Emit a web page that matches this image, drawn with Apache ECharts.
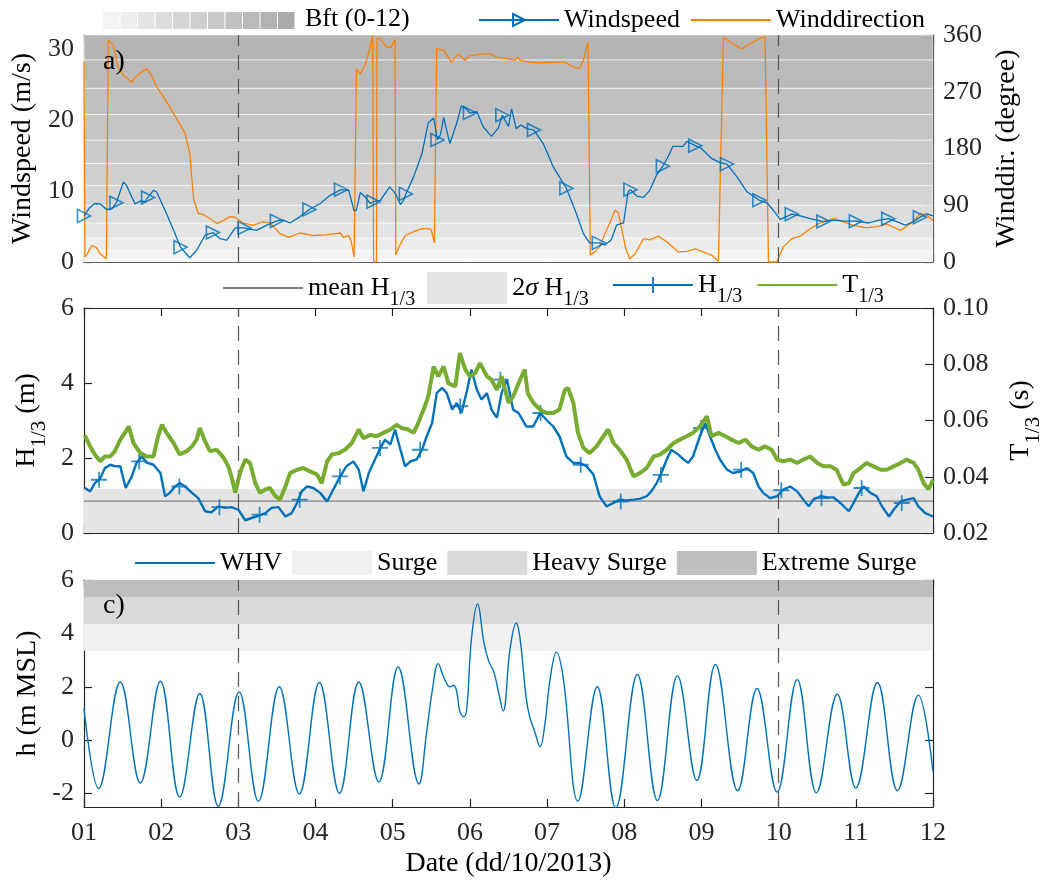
<!DOCTYPE html>
<html>
<head>
<meta charset="utf-8">
<script src="https://cdn.jsdelivr.net/npm/echarts@6/dist/echarts.min.js"></script>
<style>html,body{margin:0;padding:0;background:#fff}#chart{width:1041px;height:885px}</style>
</head>
<body>
<div id="chart"></div>
<script>
// ---------------- DATA ----------------
const dayTicks = [1,2,3,4,5,6,7,8,9,10,11,12];
const dayLabels = ['01','02','03','04','05','06','07','08','09','10','11','12'];
const refDays = [3, 10];

const windTicks = [0, 10, 20, 30];
const dirTicks = [0, 90, 180, 270, 360];
const hTicks = [0, 2, 4, 6];
const tTicks = [0.02, 0.04, 0.06, 0.08, 0.10];
const whvTicks = [-2, 0, 2, 4, 6];

// Beaufort class limits (m/s)
const bftLimits = [0, 0.3, 1.6, 3.4, 5.5, 8.0, 10.8, 13.9, 17.2, 20.8, 24.5, 28.5, 32.7];

const windSpeed = [[1.00,6.5],[1.07,7.6],[1.14,8.25],[1.21,8.2],[1.29,7.4],[1.36,7.5],[1.42,8.35],[1.51,11.3],[1.55,10.8],[1.66,8.2],[1.73,8.6],[1.79,8.5],[1.83,9.1],[1.90,10.1],[1.94,9.9],[2.07,6.8],[2.16,4.5],[2.25,2.1],[2.37,0.6],[2.46,1.65],[2.57,3.8],[2.67,4.15],[2.76,3.3],[2.85,3.07],[2.96,4.8],[3.08,4.8],[3.15,4.6],[3.24,4.5],[3.37,5.2],[3.50,5.8],[3.58,5.9],[3.67,5.5],[3.80,6.4],[3.92,7.4],[4.06,8.25],[4.19,9.4],[4.33,10.2],[4.43,10.1],[4.50,7.2],[4.53,7.3],[4.58,9.8],[4.64,9.2],[4.71,8.25],[4.75,8.5],[4.84,8.7],[4.96,10.6],[5.03,9.7],[5.10,8.1],[5.14,8.7],[5.17,9.6],[5.27,12.0],[5.38,15.3],[5.46,19.6],[5.53,20.3],[5.58,17.2],[5.62,18.0],[5.66,20.4],[5.74,16.7],[5.83,19.6],[5.89,22.0],[5.94,21.7],[6.00,21.0],[6.09,21.2],[6.17,19.1],[6.28,17.7],[6.37,18.9],[6.42,20.7],[6.50,19.1],[6.54,21.6],[6.60,18.8],[6.66,19.3],[6.74,18.8],[6.83,18.6],[6.95,16.7],[7.08,13.4],[7.25,10.4],[7.38,6.8],[7.47,4.0],[7.55,2.7],[7.67,2.7],[7.75,2.4],[7.83,3.1],[7.90,5.2],[7.99,5.5],[8.05,9.9],[8.08,10.2],[8.16,9.3],[8.25,9.1],[8.33,10.1],[8.42,12.3],[8.50,13.5],[8.57,14.9],[8.63,16.3],[8.76,16.3],[8.81,17.0],[8.92,16.4],[9.00,16.0],[9.13,14.6],[9.24,14.0],[9.33,13.8],[9.46,12.0],[9.59,9.9],[9.75,8.7],[9.85,8.35],[9.93,7.3],[10.02,6.0],[10.10,6.4],[10.17,6.75],[10.28,6.5],[10.41,6.1],[10.58,5.7],[10.71,5.9],[10.84,5.75],[11.00,5.75],[11.17,5.5],[11.30,5.9],[11.42,6.1],[11.53,5.7],[11.64,5.2],[11.75,5.7],[11.83,6.3],[11.92,6.8],[12.00,6.5]];

const windSpeedMarkers = [[1.00,6.5],[1.42,8.35],[1.83,9.1],[2.25,2.1],[2.67,4.15],[3.08,4.8],[3.50,5.8],[3.92,7.4],[4.33,10.2],[4.75,8.5],[5.17,9.6],[5.58,17.2],[6.00,21.0],[6.42,20.7],[6.83,18.6],[7.25,10.4],[7.67,2.7],[8.08,10.2],[8.50,13.5],[8.92,16.4],[9.33,13.8],[9.75,8.7],[10.17,6.75],[10.58,5.7],[11.00,5.75],[11.42,6.1],[11.83,6.3]];

const windDir = [[1.000,318],[1.012,8],[1.04,12],[1.10,26],[1.16,23],[1.21,13],[1.29,5],[1.315,352],[1.38,344],[1.44,309],[1.51,296],[1.62,285],[1.66,293],[1.81,307],[1.875,296],[1.94,278],[2.03,262],[2.11,246],[2.24,219],[2.31,204],[2.37,172],[2.42,100],[2.48,77],[2.55,75],[2.63,69],[2.72,61],[2.81,66],[2.89,72],[2.96,71],[3.06,62],[3.19,58],[3.32,64],[3.41,62],[3.54,45],[3.65,39],[3.80,46],[3.97,42],[4.14,43],[4.32,46],[4.36,39],[4.43,42],[4.46,34],[4.50,8],[4.53,306],[4.58,298],[4.64,312],[4.71,341],[4.74,360],[4.748,360],[4.752,0],[4.79,0],[4.795,355],[4.84,354],[4.92,341],[4.98,341],[5.03,353],[5.04,11],[5.09,26],[5.16,42],[5.27,48],[5.38,53],[5.46,53],[5.50,51],[5.54,30],[5.57,338],[5.66,336],[5.76,317],[5.85,330],[5.94,320],[6.00,328],[6.07,328],[6.15,330],[6.26,330],[6.35,325],[6.48,322],[6.58,320],[6.62,325],[6.65,320],[6.78,317],[6.90,316],[7.08,317],[7.23,317],[7.34,309],[7.42,307],[7.47,320],[7.53,349],[7.56,11],[7.62,16],[7.68,24],[7.75,45],[7.81,61],[7.88,82],[7.92,79],[7.96,56],[8.02,21],[8.07,5],[8.14,13],[8.25,37],[8.33,35],[8.44,41],[8.55,32],[8.70,16],[8.81,17],[8.92,21],[9.02,16],[9.13,11],[9.22,1],[9.24,0],[9.284,356],[9.41,346],[9.52,338],[9.63,346],[9.74,354],[9.824,358],[9.868,0],[9.976,0],[10.06,24],[10.17,37],[10.28,41],[10.41,53],[10.54,62],[10.73,69],[10.86,63],[10.97,58],[11.14,54],[11.27,56],[11.40,60],[11.58,50],[11.71,61],[11.84,77],[11.92,74],[12.00,66]];

const h13Mean = 0.85;
const h13TwoSigma = [0, 1.18];

const h13 = [[1.01,1.2],[1.08,1.11],[1.14,1.33],[1.21,1.45],[1.27,1.73],[1.34,1.82],[1.40,1.78],[1.47,1.78],[1.54,1.2],[1.62,1.51],[1.68,1.87],[1.75,2.04],[1.81,1.88],[1.90,1.82],[1.99,1.6],[2.05,0.98],[2.11,1.07],[2.18,1.24],[2.24,1.33],[2.31,1.24],[2.40,1.07],[2.48,0.93],[2.57,0.58],[2.65,0.55],[2.74,0.71],[2.83,0.67],[2.91,0.69],[3.00,0.62],[3.09,0.34],[3.17,0.4],[3.26,0.46],[3.35,0.53],[3.43,0.67],[3.52,0.69],[3.61,0.44],[3.69,0.53],[3.76,0.8],[3.82,1.11],[3.89,1.24],[3.97,1.2],[4.06,1.07],[4.15,0.84],[4.23,1.16],[4.32,1.51],[4.40,1.78],[4.49,1.91],[4.56,1.69],[4.62,1.11],[4.69,1.6],[4.77,1.96],[4.84,2.27],[4.90,2.49],[4.97,2.36],[5.03,2.76],[5.10,2.22],[5.16,1.78],[5.23,1.91],[5.31,1.96],[5.38,2.22],[5.44,2.58],[5.51,2.93],[5.57,3.73],[5.64,3.87],[5.70,3.73],[5.77,3.29],[5.83,3.47],[5.89,3.2],[5.96,3.78],[6.02,4.36],[6.09,3.82],[6.15,3.56],[6.22,3.73],[6.28,3.29],[6.35,3.07],[6.41,3.73],[6.48,4.09],[6.56,3.29],[6.63,3.2],[6.73,2.84],[6.82,2.84],[6.91,3.2],[6.99,3.02],[7.08,2.84],[7.16,2.58],[7.25,2.04],[7.34,1.87],[7.42,1.87],[7.51,1.78],[7.60,1.56],[7.68,0.98],[7.77,0.71],[7.86,0.8],[7.94,0.89],[8.03,0.87],[8.12,0.89],[8.20,0.91],[8.29,0.98],[8.35,1.11],[8.42,1.33],[8.48,1.6],[8.55,1.96],[8.61,2.22],[8.70,2.09],[8.77,1.96],[8.83,1.87],[8.89,2.04],[8.98,2.58],[9.05,2.93],[9.11,2.58],[9.18,2.22],[9.24,1.96],[9.33,1.69],[9.41,1.6],[9.50,1.64],[9.59,1.73],[9.67,1.6],[9.74,1.24],[9.80,1.07],[9.89,0.93],[9.98,0.98],[10.06,1.16],[10.15,1.24],[10.24,1.11],[10.32,0.89],[10.39,0.71],[10.45,0.89],[10.54,0.98],[10.63,0.95],[10.71,0.95],[10.80,0.8],[10.91,0.58],[10.97,0.8],[11.04,1.07],[11.10,1.24],[11.19,1.07],[11.27,0.98],[11.34,0.71],[11.43,0.44],[11.49,0.62],[11.58,0.84],[11.66,0.89],[11.75,0.93],[11.81,0.71],[11.90,0.53],[12.00,0.44]];

const h13Markers = [[1.195,1.42],[1.715,1.91],[2.235,1.24],[2.755,0.69],[3.275,0.49],[3.795,0.89],[4.315,1.51],[4.835,2.27],[5.355,2.22],[5.875,3.38],[6.395,4.09],[6.915,3.2],[7.435,1.82],[7.955,0.84],[8.475,1.55],[8.995,2.8],[9.515,1.69],[10.035,1.14],[10.555,0.93],[11.075,1.2],[11.595,0.8]];

const t13 = [[1.01,0.0547],[1.08,0.0508],[1.14,0.0479],[1.21,0.0455],[1.27,0.0472],[1.34,0.0472],[1.40,0.0491],[1.47,0.0532],[1.53,0.0556],[1.58,0.0579],[1.64,0.0520],[1.73,0.0484],[1.81,0.0472],[1.90,0.0472],[1.96,0.0544],[2.01,0.0585],[2.07,0.0556],[2.16,0.0520],[2.24,0.0479],[2.33,0.0491],[2.40,0.0508],[2.46,0.0532],[2.50,0.0573],[2.57,0.0525],[2.63,0.0491],[2.72,0.0496],[2.81,0.0467],[2.87,0.0437],[2.91,0.0401],[2.96,0.0343],[3.02,0.0413],[3.09,0.0461],[3.15,0.0449],[3.22,0.0377],[3.28,0.0343],[3.35,0.0355],[3.41,0.0360],[3.48,0.0331],[3.54,0.0319],[3.61,0.0365],[3.67,0.0413],[3.76,0.0425],[3.84,0.0431],[3.93,0.0419],[4.02,0.0408],[4.08,0.0377],[4.15,0.0455],[4.21,0.0479],[4.30,0.0484],[4.38,0.0496],[4.47,0.0520],[4.56,0.0568],[4.62,0.0537],[4.71,0.0549],[4.79,0.0544],[4.88,0.0556],[4.97,0.0568],[5.05,0.0585],[5.12,0.0573],[5.20,0.0568],[5.27,0.0556],[5.33,0.0591],[5.40,0.0639],[5.46,0.0685],[5.53,0.0792],[5.59,0.0757],[5.66,0.0792],[5.72,0.0733],[5.81,0.0721],[5.87,0.0840],[5.94,0.0781],[6.00,0.0757],[6.07,0.0769],[6.13,0.0804],[6.22,0.0757],[6.28,0.0745],[6.35,0.0709],[6.41,0.0757],[6.50,0.0663],[6.56,0.0685],[6.65,0.0745],[6.71,0.0781],[6.75,0.0697],[6.82,0.0663],[6.91,0.0639],[6.99,0.0627],[7.08,0.0627],[7.16,0.0639],[7.23,0.0709],[7.27,0.0716],[7.34,0.0663],[7.40,0.0556],[7.47,0.0503],[7.55,0.0484],[7.64,0.0508],[7.73,0.0544],[7.79,0.0568],[7.86,0.0520],[7.94,0.0496],[8.03,0.0461],[8.12,0.0401],[8.20,0.0413],[8.29,0.0431],[8.38,0.0472],[8.46,0.0479],[8.55,0.0496],[8.64,0.0520],[8.72,0.0532],[8.81,0.0544],[8.89,0.0556],[8.98,0.0579],[9.07,0.0615],[9.13,0.0544],[9.22,0.0556],[9.31,0.0544],[9.39,0.0532],[9.48,0.0520],[9.57,0.0532],[9.65,0.0508],[9.74,0.0496],[9.82,0.0508],[9.91,0.0496],[9.98,0.0461],[10.06,0.0455],[10.15,0.0461],[10.24,0.0449],[10.32,0.0461],[10.41,0.0472],[10.50,0.0449],[10.58,0.0437],[10.67,0.0437],[10.75,0.0425],[10.84,0.0372],[10.91,0.0377],[10.97,0.0413],[11.06,0.0431],[11.14,0.0449],[11.23,0.0437],[11.32,0.0425],[11.40,0.0425],[11.49,0.0437],[11.58,0.0449],[11.66,0.0461],[11.75,0.0449],[11.81,0.0425],[11.88,0.0377],[11.94,0.0355],[12.00,0.0389]];

const whv = [[1.00,1.19],[1.19,-1.81],[1.47,2.18],[1.73,-1.60],[1.99,2.21],[2.24,-2.13],[2.50,1.75],[2.74,-2.47],[3.01,1.81],[3.26,-2.28],[3.53,2.00],[3.79,-2.01],[4.05,2.16],[4.31,-1.99],[4.56,2.18],[4.82,-1.56],[5.07,2.74],[5.34,-1.64],[5.44,0.32],[5.51,1.81],[5.59,2.87],[5.66,2.37],[5.74,2.00],[5.79,2.06],[5.83,1.81],[5.87,1.07],[5.92,0.88],[5.96,1.19],[6.02,3.80],[6.10,5.10],[6.18,3.67],[6.24,2.99],[6.31,2.56],[6.37,1.81],[6.43,1.09],[6.52,3.42],[6.60,4.39],[6.65,3.80],[6.73,1.56],[6.78,0.82],[6.84,0.32],[6.91,-0.24],[6.97,0.57],[7.04,2.31],[7.12,3.30],[7.21,2.31],[7.40,-2.28],[7.65,2.00],[7.89,-2.53],[8.17,2.46],[8.43,-2.26],[8.69,2.41],[8.94,-1.51],[9.18,2.84],[9.47,-1.89],[9.72,1.94],[9.98,-1.94],[10.24,2.27],[10.49,-1.97],[10.76,1.72],[11.00,-1.79],[11.28,2.16],[11.54,-1.89],[11.81,1.69],[12.00,-1.17]];

// Storm-surge warning levels (m MSL): Surge, Heavy Surge, Extreme Surge
const surgeLevels = [3.35, 4.35, 5.35, 6.0];
const surgeNames = ['Surge', 'Heavy Surge', 'Extreme Surge'];

// ---------------- STYLE ----------------
const FONT = '"Liberation Serif", "Times New Roman", Times, serif';
const AX = '#262626';
const BLUE = '#0072BD', ORANGE = '#FF8000', GREEN = '#77AC30';
const bftColors = ['#f6f6f6','#f3f3f3','#ececec','#e4e4e4','#dcdcdc','#d5d5d5','#cfcfcf','#cacaca','#c5c5c5','#c0c0c0','#bababa','#b4b4b4'];
const bftSwatch = ['#f4f4f4','#ededed','#e4e4e4','#dcdcdc','#d5d5d5','#cecece','#c8c8c8','#c1c1c1','#bababa','#b3b3b3','#ababab'];
const surgeColors = ['#f0f0f0', '#d9d9d9', '#bfbfbf'];
const TRI = 'path://M0,0 L10,5 L0,10 Z';
const PLUS = 'path://M4.45,0 L5.55,0 L5.55,4.45 L10,4.45 L10,5.55 L5.55,5.55 L5.55,10 L4.45,10 L4.45,5.55 L0,5.55 L0,4.45 L4.45,4.45 Z';

const GRID_L = 84, GRID_W = 849;
const grids = [
  {left: GRID_L, top: 35, width: GRID_W, height: 227},
  {left: GRID_L, top: 308, width: GRID_W, height: 225},
  {left: GRID_L, top: 580, width: GRID_W, height: 227}
].map(g => Object.assign({containLabel: false, outerBoundsMode: 'none', show: false}, g));

const rich = {
  r: {fontFamily: FONT, fontSize: 26, color: '#000'},
  i: {fontFamily: FONT, fontSize: 26, color: '#000', fontStyle: 'italic'},
  s: {fontFamily: FONT, fontSize: 20, color: '#000', padding: [24, 0, 0, 0]}
};
const richName = {
  r: {fontFamily: FONT, fontSize: 28, color: '#000'},
  s: {fontFamily: FONT, fontSize: 21, color: '#000', padding: [26, 0, 0, 0]}
};
const legendNames = {
  'mean H1/3': '{r|mean H}{s|1/3}',
  '2σ H1/3': '{r|2}{i|σ}{r| H}{s|1/3}',
  'H1/3': '{r|H}{s|1/3}',
  'T1/3': '{r|T}{s|1/3}'
};

function xAxis(gridIndex, position, showLabels) {
  return {
    type: 'value', gridIndex, position, min: dayTicks[0], max: dayTicks[dayTicks.length - 1], interval: 1,
    axisLine: {show: true, onZero: false, lineStyle: {color: AX, width: 1.2}},
    axisTick: {show: true, inside: true, length: 8, lineStyle: {color: AX, width: 1.2}},
    splitLine: {show: false},
    axisLabel: {show: showLabels, margin: 13, fontFamily: FONT, fontSize: 26, color: AX,
      formatter: v => dayLabels[dayTicks.indexOf(v)] || ''},
    name: showLabels ? 'Date (dd/10/2013)' : '', nameLocation: 'middle', nameGap: 43,
    nameTextStyle: {fontFamily: FONT, fontSize: 28, color: '#000'}
  };
}
function yAxis(gridIndex, position, min, max, ticks, showLabels, fmt, name, nameGap, nameRich) {
  return {
    type: 'value', gridIndex, position, min, max,
    axisLine: {show: true, onZero: false, lineStyle: {color: AX, width: 1.2}},
    axisTick: {show: true, inside: true, length: 8, customValues: ticks, lineStyle: {color: AX, width: 1.2}},
    splitLine: {show: false},
    axisLabel: {show: showLabels, customValues: ticks, margin: 10, fontFamily: FONT, fontSize: 26, color: AX,
      formatter: fmt || (v => String(v))},
    name: name || '', nameLocation: 'middle', nameGap: nameGap || 40, nameRotate: 90,
    nameTextStyle: Object.assign({fontFamily: FONT, fontSize: 28, color: '#000'}, nameRich ? {rich: nameRich} : {})
  };
}

const refLine = {
  silent: true, symbol: ['none', 'none'], label: {show: false},
  lineStyle: {type: [15, 9], color: '#555', width: 1.2},
  data: refDays.map(d => ({xAxis: d})), animation: false
};

const bftAreas = [];
for (let i = 0; i < bftLimits.length - 1; i++) {
  bftAreas.push([
    {yAxis: bftLimits[i], itemStyle: {color: bftColors[i], borderColor: 'rgba(255,255,255,0.55)', borderWidth: 1}},
    {yAxis: Math.min(bftLimits[i + 1], 32)}
  ]);
}

const series = [
  // ---- panel a ----
  {name: 'Bft', type: 'line', xAxisIndex: 0, yAxisIndex: 0, data: [], z: 1, silent: true,
   markArea: {silent: true, data: bftAreas}, markLine: refLine},
  {name: 'Winddirection', type: 'line', xAxisIndex: 0, yAxisIndex: 1, data: windDir, z: 3,
   showSymbol: false, symbol: 'none', lineStyle: {color: ORANGE, width: 1.3}, itemStyle: {color: ORANGE}},
  {name: 'Windspeed', type: 'line', xAxisIndex: 0, yAxisIndex: 0, data: windSpeed, z: 4,
   showSymbol: false, symbol: TRI, lineStyle: {color: BLUE, width: 1.3},
   itemStyle: {color: 'none', borderColor: BLUE, borderWidth: 1.5}},
  {name: 'WS markers', type: 'scatter', xAxisIndex: 0, yAxisIndex: 0, data: windSpeedMarkers, z: 5,
   symbol: TRI, symbolSize: 13, itemStyle: {color: 'none', borderColor: BLUE, borderWidth: 1.6}},
  // ---- panel b ----
  {name: '2σ H1/3', type: 'line', xAxisIndex: 2, yAxisIndex: 2, data: [], z: 1, silent: true,
   itemStyle: {color: '#e5e5e5'}, lineStyle: {color: '#e5e5e5'},
   markArea: {silent: true, itemStyle: {color: '#e5e5e5'}, data: [[{yAxis: h13TwoSigma[0]}, {yAxis: h13TwoSigma[1]}]]},
   markLine: refLine},
  {name: 'mean H1/3', type: 'line', xAxisIndex: 2, yAxisIndex: 2, z: 2, symbol: 'none',
   data: [[dayTicks[0], h13Mean], [dayTicks[dayTicks.length - 1], h13Mean]],
   lineStyle: {color: '#808080', width: 1.3}, itemStyle: {color: '#808080'}},
  {name: 'H1/3', type: 'line', xAxisIndex: 2, yAxisIndex: 2, data: h13, z: 3,
   showSymbol: false, symbol: PLUS, lineStyle: {color: BLUE, width: 2.4, join: 'bevel'}, itemStyle: {color: BLUE}},
  {name: 'H markers', type: 'scatter', xAxisIndex: 2, yAxisIndex: 2, data: h13Markers, z: 4,
   symbol: PLUS, symbolSize: 16, itemStyle: {color: BLUE}},
  {name: 'T1/3', type: 'line', xAxisIndex: 2, yAxisIndex: 3, data: t13, z: 5,
   showSymbol: false, symbol: 'none', lineStyle: {color: GREEN, width: 4, join: 'bevel'}, itemStyle: {color: GREEN}},
  // ---- panel c ----
  ...surgeNames.map((n, i) => ({
    name: n, type: 'line', xAxisIndex: 4, yAxisIndex: 4, data: [], z: 1, silent: true,
    itemStyle: {color: surgeColors[i]}, lineStyle: {color: surgeColors[i]},
    markArea: {silent: true, itemStyle: {color: surgeColors[i]},
      data: [[{yAxis: surgeLevels[i]}, {yAxis: surgeLevels[i + 1]}]]},
    markLine: i === 0 ? refLine : undefined
  })),
  {name: 'WHV', type: 'line', xAxisIndex: 4, yAxisIndex: 4, data: whv, z: 3, smooth: 0.4,
   showSymbol: false, symbol: 'none', lineStyle: {color: BLUE, width: 1.4}, itemStyle: {color: BLUE}}
];

const legendBase = {
  orient: 'horizontal', padding: 0, itemWidth: 80, itemGap: 10, selectedMode: false,
  textStyle: {fontFamily: FONT, fontSize: 26, color: '#000', rich},
  formatter: n => legendNames[n] || n
};
const noSym = {opacity: 0};

const graphic = [];
bftSwatch.forEach((c, i) => {
  graphic.push({type: 'rect', left: 103 + i * 17.5, top: 12, shape: {width: 16.5, height: 17},
    style: {fill: c}, silent: true});
});
graphic.push({type: 'text', left: 305, top: 6, style: {text: 'Bft (0-12)', font: '26px ' + FONT, fill: '#000'}});
graphic.push({type: 'text', left: 103, top: 48, style: {text: 'a)', font: '28px ' + FONT, fill: '#000'}, z: 10});
graphic.push({type: 'text', left: 103, top: 592, style: {text: 'c)', font: '28px ' + FONT, fill: '#000'}, z: 10});

const option = {
  animation: false,
  backgroundColor: '#fff',
  grid: grids,
  xAxis: [xAxis(0, 'bottom', false), xAxis(0, 'top', false), xAxis(1, 'bottom', false), xAxis(1, 'top', false),
          xAxis(2, 'bottom', true), xAxis(2, 'top', false)],
  yAxis: [
    yAxis(0, 'left', 0, 32, windTicks, true, null, 'Windspeed (m/s)', 46),
    yAxis(0, 'right', 0, 360, dirTicks, true, null, 'Winddir. (degree)', 52),
    yAxis(1, 'left', 0, 6, hTicks, true, null, '{r|H}{s|1/3}{r| (m)}', 33, richName),
    yAxis(1, 'right', 0.02, 0.10, tTicks, true, v => v.toFixed(2), '{r|T}{s|1/3}{r| (s)}', 64, richName),
    yAxis(2, 'left', -2.5, 6, whvTicks, true, null, 'h (m MSL)', 40),
    yAxis(2, 'right', -2.5, 6, whvTicks, false, null, '', 40)
  ],
  legend: [
    Object.assign({}, legendBase, {data: [{name: 'Windspeed'}, {name: 'Winddirection', itemStyle: noSym}], left: 478, top: 7, itemHeight: 15}),
    Object.assign({}, legendBase, {data: [{name: 'mean H1/3', itemStyle: noSym}, {name: '2σ H1/3', icon: 'rect'}], left: 222, top: 272, itemHeight: 32, itemGap: 12}),
    Object.assign({}, legendBase, {data: [{name: 'H1/3'}, {name: 'T1/3', itemStyle: noSym}], left: 612, top: 272, itemHeight: 20, itemGap: 14}),
    Object.assign({}, legendBase, {data: [{name: 'WHV', itemStyle: noSym}].concat(surgeNames.map(n => ({name: n, icon: 'rect'}))), left: 134, top: 550, itemHeight: 24, itemGap: 10})
  ],
  graphic,
  series
};

const chart = echarts.init(document.getElementById('chart'), null, {renderer: 'canvas'});
chart.setOption(option);
</script>
</body>
</html>
